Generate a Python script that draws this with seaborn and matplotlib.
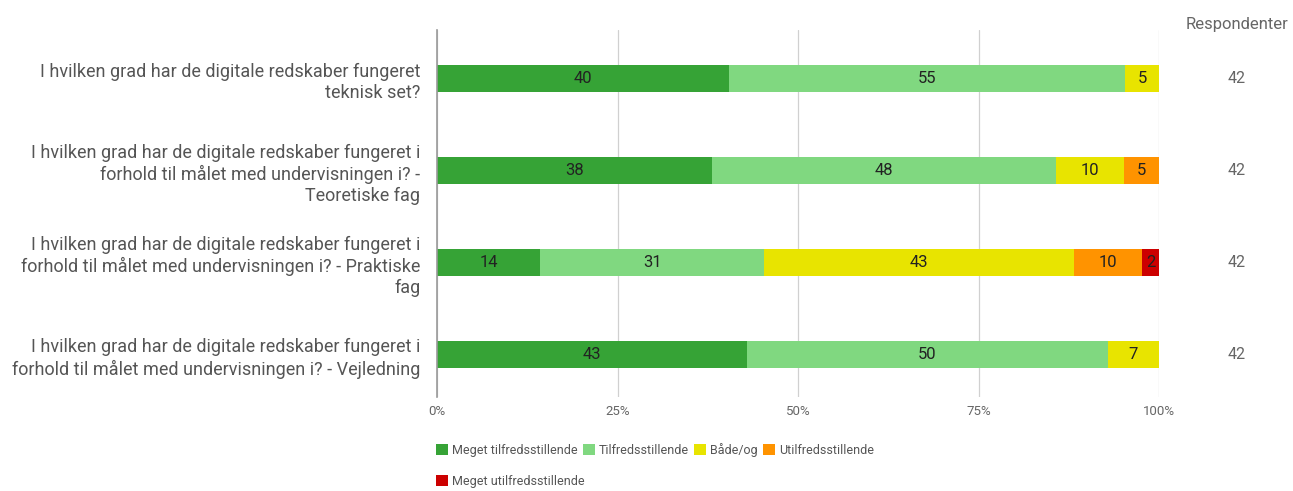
import numpy as np
import pandas as pd
import matplotlib
matplotlib.use("Agg")
import matplotlib.pyplot as plt
import seaborn as sns
from matplotlib.patches import Patch

# Questions (y categories)
questions = [
    "I hvilken grad har de digitale redskaber fungeret\nteknisk set?",
    "I hvilken grad har de digitale redskaber fungeret i\nforhold til målet med undervisningen i? -\nTeoretiske fag",
    "I hvilken grad har de digitale redskaber fungeret i\nforhold til målet med undervisningen i? - Praktiske\nfag",
    "I hvilken grad har de digitale redskaber fungeret i\nforhold til målet med undervisningen i? - Vejledning",
]
answers = ["Meget tilfredsstillende", "Tilfredsstillende", "Både/og",
           "Utilfredsstillende", "Meget utilfredsstillende"]
colors = ["#36a336", "#80d880", "#e8e400", "#ff9300", "#cc0000"]

# percent of respondents per answer (rows = questions)
meget_tilf = [40.5, 38.1, 14.3, 42.9]
tilf = [54.8, 47.6, 31.0, 50.0]
baade_og = [4.8, 9.5, 42.9, 7.1]
utilf = [0.0, 4.8, 9.5, 0.0]
meget_utilf = [0.0, 0.0, 2.4, 0.0]
respondents = [42, 42, 42, 42]

series = [meget_tilf, tilf, baade_og, utilf, meget_utilf]
df = pd.DataFrame({a: s for a, s in zip(answers, series)})
df["question"] = questions
cum = df[answers].cumsum(axis=1)

sns.set_theme(style="white")
plt.rcParams["font.family"] = ["Roboto", "DejaVu Sans"]

fig = plt.figure(figsize=(12.93, 4.91), dpi=100)
ax = fig.add_axes([437 / 1293, 1 - 397 / 491, (1159 - 437) / 1293, 367 / 491])

# stacked bars: draw cumulative totals from last to first
for ans, col in reversed(list(zip(answers, colors))):
    sns.barplot(x=cum[ans], y=df["question"], orient="h", color=col,
                width=0.29, ax=ax, saturation=1, linewidth=0, zorder=3)

# segment labels
for i in range(len(questions)):
    left = 0
    for ans in answers:
        v = df.loc[i, ans]
        if v > 0:
            ax.text(left + v / 2, i, f"{v:.0f}", ha="center", va="center",
                    fontsize=12, color="#222222", zorder=4)
        left += v
    ax.text(1.107, i, str(respondents[i]), transform=ax.get_yaxis_transform(),
            ha="center", va="center", fontsize=11.5, color="#666666")

ax.text(1.108, 0.995, "Respondenter", transform=ax.transAxes, ha="center",
        va="bottom", fontsize=12, color="#666666")

ax.set_xlim(0, 100)
ax.set_ylim(3.46, -0.53)
ax.set_xticks([0, 25, 50, 75, 100])
ax.set_xticklabels(["0%", "25%", "50%", "75%", "100%"])
ax.tick_params(axis="x", colors="#666666", labelsize=9.5, length=0, pad=6)
ax.tick_params(axis="y", colors="#555555", labelsize=13, length=0, pad=12)
for lbl in ax.get_yticklabels():
    lbl.set_linespacing(1.22)
ax.set_xlabel("")
ax.set_ylabel("")
ax.grid(axis="x", color="#d0d0d0", linewidth=0.9, zorder=0)
for s in ["top", "right", "bottom"]:
    ax.spines[s].set_visible(False)
ax.spines["left"].set_color("#999999")
ax.spines["left"].set_linewidth(1.2)
ax.spines["left"].set_zorder(5)

handles = [Patch(facecolor=c, edgecolor="none") for c in colors]
leg_kw = dict(frameon=False, handlelength=0.95, handleheight=0.95,
              handletextpad=0.3, columnspacing=0.45, fontsize=9.0,
              labelcolor="#555555", borderaxespad=0, borderpad=0)
leg1 = fig.legend(handles[:4], answers[:4], ncol=4, loc="upper left",
                  bbox_to_anchor=(436 / 1293, 1 - 443 / 491), **leg_kw)
leg2 = fig.legend(handles[4:], answers[4:], ncol=1, loc="upper left",
                  bbox_to_anchor=(436 / 1293, 1 - 475 / 491), **leg_kw)

fig.savefig("out.png", dpi=100)
